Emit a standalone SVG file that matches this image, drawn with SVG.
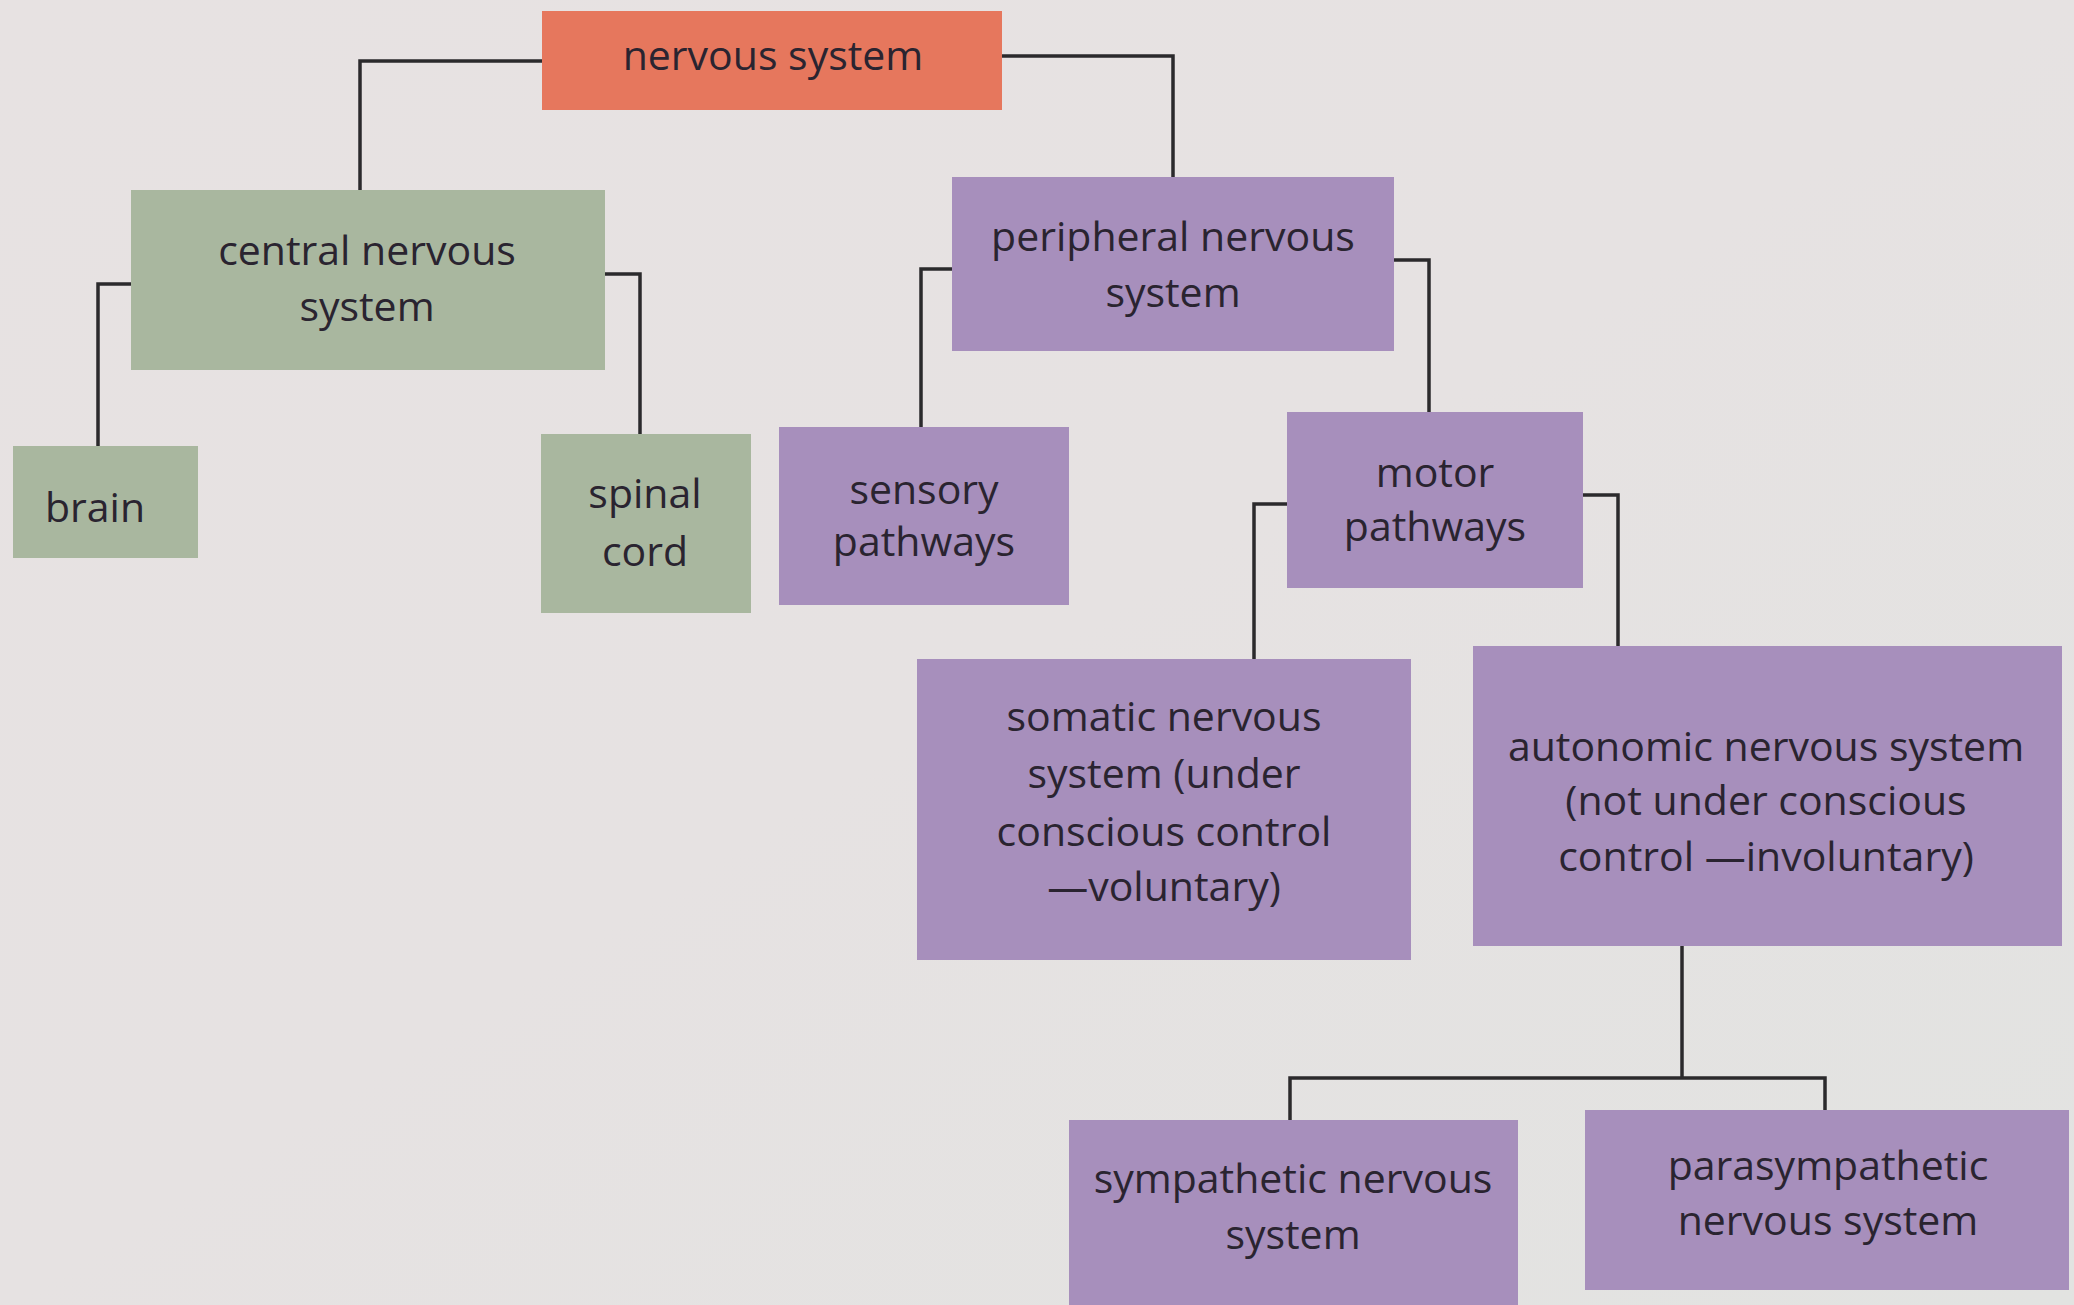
<svg xmlns="http://www.w3.org/2000/svg" width="2074" height="1305" viewBox="0 0 2074 1305">
  <defs>
    <linearGradient id="bg" x1="0" y1="0" x2="1" y2="1">
      <stop offset="0" stop-color="#e7e2e2"/>
      <stop offset="0.5" stop-color="#e6e2e2"/>
      <stop offset="1" stop-color="#e2e3e1"/>
    </linearGradient>
  </defs>
  <style>
    .box-red { fill: #e6775d; }
    .box-green { fill: #a9b79f; }
    .box-purple { fill: #a78fbc; }
    .label { font-family: "Open Sans", "Noto Sans", "Liberation Sans", sans-serif; font-size: 41px; fill: #2a2430; text-anchor: middle; }
    .conn { fill: none; stroke: #2b2a2c; stroke-width: 3.5; }
  </style>
  <rect x="0" y="0" width="2074" height="1305" fill="url(#bg)"/>

  <g id="connectors">
    <path class="conn" d="M542,61 H360 V190"/>
    <path class="conn" d="M1002,56 H1173 V177"/>
    <path class="conn" d="M131,284 H98 V446"/>
    <path class="conn" d="M605,274 H640 V434"/>
    <path class="conn" d="M952,269 H921 V427"/>
    <path class="conn" d="M1394,260 H1429 V412"/>
    <path class="conn" d="M1287,504 H1254 V659"/>
    <path class="conn" d="M1583,495 H1618 V646"/>
    <path class="conn" d="M1682,946 V1078"/>
    <path class="conn" d="M1290,1120 V1078 H1825 V1110"/>
  </g>

  <g id="nervous-system">
    <rect class="box-red" x="542" y="11" width="460" height="99"/>
    <text class="label" x="773" y="70">nervous system</text>
  </g>

  <g id="central-nervous-system">
    <rect class="box-green" x="131" y="190" width="474" height="180"/>
    <text class="label" x="367" y="265">central nervous</text>
    <text class="label" x="367" y="321">system</text>
  </g>

  <g id="brain">
    <rect class="box-green" x="13" y="446" width="185" height="112"/>
    <text class="label" x="95" y="522">brain</text>
  </g>

  <g id="spinal-cord">
    <rect class="box-green" x="541" y="434" width="210" height="179"/>
    <text class="label" x="645" y="508">spinal</text>
    <text class="label" x="645" y="566">cord</text>
  </g>

  <g id="peripheral-nervous-system">
    <rect class="box-purple" x="952" y="177" width="442" height="174"/>
    <text class="label" x="1173" y="251">peripheral nervous</text>
    <text class="label" x="1173" y="307">system</text>
  </g>

  <g id="sensory-pathways">
    <rect class="box-purple" x="779" y="427" width="290" height="178"/>
    <text class="label" x="924" y="504">sensory</text>
    <text class="label" x="924" y="556">pathways</text>
  </g>

  <g id="motor-pathways">
    <rect class="box-purple" x="1287" y="412" width="296" height="176"/>
    <text class="label" x="1435" y="487">motor</text>
    <text class="label" x="1435" y="541">pathways</text>
  </g>

  <g id="somatic-nervous-system">
    <rect class="box-purple" x="917" y="659" width="494" height="301"/>
    <text class="label" x="1164" y="731">somatic nervous</text>
    <text class="label" x="1164" y="788">system (under</text>
    <text class="label" x="1164" y="846">conscious control</text>
    <text class="label" x="1164" y="901">—voluntary)</text>
  </g>

  <g id="autonomic-nervous-system">
    <rect class="box-purple" x="1473" y="646" width="589" height="300"/>
    <text class="label" x="1766" y="761">autonomic nervous system</text>
    <text class="label" x="1766" y="815">(not under conscious</text>
    <text class="label" x="1766" y="871">control —involuntary)</text>
  </g>

  <g id="sympathetic-nervous-system">
    <rect class="box-purple" x="1069" y="1120" width="449" height="185"/>
    <text class="label" x="1293" y="1193">sympathetic nervous</text>
    <text class="label" x="1293" y="1249">system</text>
  </g>

  <g id="parasympathetic-nervous-system">
    <rect class="box-purple" x="1585" y="1110" width="484" height="180"/>
    <text class="label" x="1828" y="1180">parasympathetic</text>
    <text class="label" x="1828" y="1235">nervous system</text>
  </g>
</svg>
